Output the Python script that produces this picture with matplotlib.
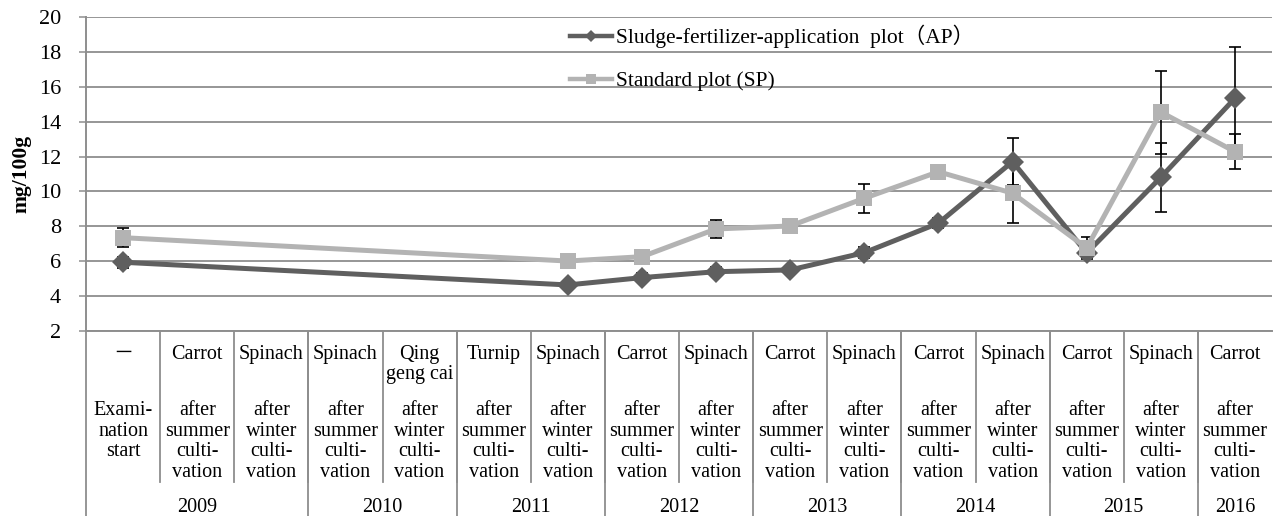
import matplotlib
matplotlib.use("Agg")
import matplotlib.pyplot as plt
from matplotlib.lines import Line2D
import matplotlib.transforms as mtransforms
import numpy as np

# ---- data ----
crops = ["\uff0d", "Carrot", "Spinach", "Spinach", "Qing\ngeng cai", "Turnip",
         "Spinach", "Carrot", "Spinach", "Carrot", "Spinach", "Carrot",
         "Spinach", "Carrot", "Spinach", "Carrot"]
stages = ["Exami-\nnation\nstart",
          "after\nsummer\nculti-\nvation", "after\nwinter\nculti-\nvation",
          "after\nsummer\nculti-\nvation", "after\nwinter\nculti-\nvation",
          "after\nsummer\nculti-\nvation", "after\nwinter\nculti-\nvation",
          "after\nsummer\nculti-\nvation", "after\nwinter\nculti-\nvation",
          "after\nsummer\nculti-\nvation", "after\nwinter\nculti-\nvation",
          "after\nsummer\nculti-\nvation", "after\nwinter\nculti-\nvation",
          "after\nsummer\nculti-\nvation", "after\nwinter\nculti-\nvation",
          "after\nsummer\nculti-\nvation"]
years = ["2009", "2010", "2011", "2012", "2013", "2014", "2015", "2016"]
year_span = [3, 2, 2, 2, 2, 2, 2, 1]

# sampled categories (indices into crops / stages)
sample_idx = [0, 6, 7, 8, 9, 10, 11, 12, 13, 14, 15]
ap_values = [5.94, 4.64, 5.06, 5.40, 5.50, 6.49, 8.18, 11.71, 6.47, 10.81, 15.34]
ap_err = [0.30, 0.25, 0.25, 0.25, 0.25, 0.30, 0.30, 1.33, 0.30, 1.98, 2.96]
sp_values = [7.35, 6.01, 6.26, 7.85, 8.02, 9.61, 11.13, 9.90, 6.76, 14.55, 12.28]
sp_err = [0.56, 0.30, 0.30, 0.54, 0.30, 0.83, 0.30, 1.72, 0.61, 2.38, 1.00]

ap_label = "Sludge-fertilizer-application  plot\uff08AP\uff09"
sp_label = "Standard plot (SP)"

# ---- style ----
FONT = ["Liberation Serif", "Noto Sans CJK JP", "DejaVu Sans"]
plt.rcParams["font.family"] = FONT
AP_COLOR = "#5f5f5f"
SP_COLOR = "#b3b3b3"
GRID_COLOR = "#8e8e8e"
TABLE_FS = 14.5

W, H = 1280, 516
fig = plt.figure(figsize=(W / 100, H / 100), dpi=100)
x0, x1, ytop, ybot = 86, 1272, 17, 331
ax = fig.add_axes([x0 / W, (H - ybot) / H, (x1 - x0) / W, (ybot - ytop) / H])

n = len(crops)
ax.set_xlim(0, n)
ax.set_ylim(2, 20)
ax.set_yticks(np.arange(2, 21, 2))
ax.set_yticklabels([str(v) for v in range(2, 21, 2)], fontsize=16)
ax.tick_params(axis="y", length=5, width=1.1, color=GRID_COLOR, pad=13)
ax.set_xticks([])
ax.grid(axis="y", color=GRID_COLOR, linewidth=1.3, zorder=0)
ax.set_axisbelow(True)
for side in ("top", "right"):
    ax.spines[side].set_visible(False)
for side in ("left", "bottom"):
    ax.spines[side].set_color(GRID_COLOR)
    ax.spines[side].set_linewidth(1.4)
ax.set_ylabel("mg/100g", fontsize=15.5, fontweight="bold")
ax.yaxis.set_label_coords((31 - x0) / (x1 - x0), 0.5)

xs = np.array(sample_idx) + 0.5

# error bars beneath the markers
ax.errorbar(xs, ap_values, yerr=ap_err, fmt="none", ecolor="black",
            elinewidth=1.2, capsize=4, capthick=1.2, zorder=2)
ax.errorbar(xs, sp_values, yerr=sp_err, fmt="none", ecolor="black",
            elinewidth=1.2, capsize=4, capthick=1.2, zorder=2)

ax.plot(xs, ap_values, color=AP_COLOR, linewidth=3.6, marker="D",
        markersize=11, markeredgewidth=0, zorder=3)
ax.plot(xs, sp_values, color=SP_COLOR, linewidth=3.6, marker="s",
        markersize=11.5, markeredgewidth=0, zorder=4)

# legend with smaller markers
handles = [
    Line2D([], [], color=AP_COLOR, linewidth=3.2, marker="D", markersize=6,
           markeredgewidth=0),
    Line2D([], [], color=SP_COLOR, linewidth=3.2, marker="s", markersize=7.5,
           markeredgewidth=0),
]
ax.legend(handles, [ap_label, sp_label], loc="upper left",
          bbox_to_anchor=(570 / W, (H - 25) / H), bbox_transform=fig.transFigure,
          frameon=False, fontsize=15.5, handlelength=1.95, handletextpad=0.2,
          labelspacing=1.05, borderpad=0, borderaxespad=0)

# ---- category table under the plot ----
def ay(py):
    return (ybot - py) / (ybot - ytop)

trans = mtransforms.blended_transform_factory(ax.transData, ax.transAxes)
line_kw = dict(color=GRID_COLOR, linewidth=1.3, transform=trans, clip_on=False)

# separators between categories
for i in range(1, n):
    ax.plot([i, i], [ay(ybot), ay(482)], **line_kw)
# year separators run to the bottom edge
bounds = np.cumsum([0] + year_span)
for b in bounds[:-1]:
    ax.plot([b, b], [ay(ybot), ay(516)], **line_kw)

for i in range(n):
    ax.text(i + 0.5, ay(345), crops[i], ha="center", va="top", fontsize=TABLE_FS,
            transform=trans, linespacing=1.1)
    ax.text(i + 0.5, ay(401), stages[i], ha="center", va="top", fontsize=TABLE_FS,
            transform=trans, linespacing=1.12)
for k, yr in enumerate(years):
    mid = (bounds[k] + bounds[k + 1]) / 2
    ax.text(mid, ay(507), yr, ha="center", va="center", fontsize=TABLE_FS,
            transform=trans)

fig.savefig("out.png", dpi=100)
